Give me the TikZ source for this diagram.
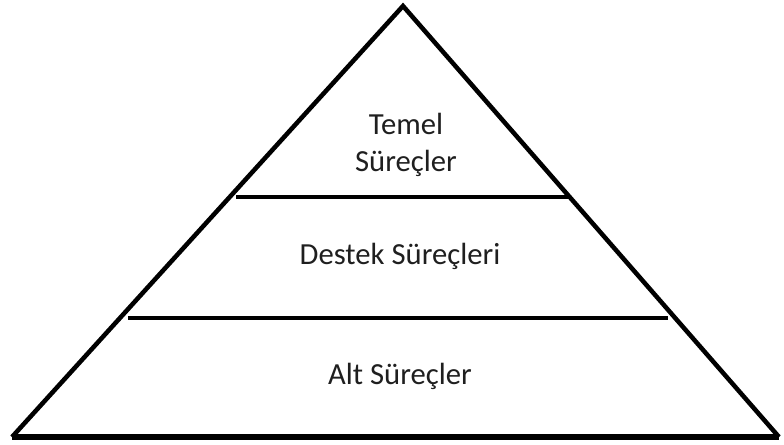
\documentclass[tikz,border=0pt]{standalone}
\usepackage{fontspec}
\setmainfont{Carlito}
\begin{document}
\begin{tikzpicture}[x=0.75pt,y=-0.75pt,
  edge/.style={line width=3.4pt,line join=miter,line cap=butt},
  level/.style={font=\fontsize{23}{27.5}\selectfont,align=center,text=black!88}]
\useasboundingbox (0,0) rectangle (784,445);
% corners of the pyramid
\coordinate (apex) at (403,6);
\coordinate (bl) at (12,437);
\coordinate (br) at (779,437);
% outline
\draw[edge] (bl) -- (apex) -- (br);
\draw[line width=5pt] (bl) -- (br);
% dividing lines
\coordinate (l1a) at (236,197);
\coordinate (l1b) at (569,197);
\coordinate (l2a) at (128,318);
\coordinate (l2b) at (668,318);
\draw[line width=3.6pt] (l1a) -- (l1b);
\draw[line width=3.6pt] (l2a) -- (l2b);
% labels
\node[level] (top) at (406,145) {Temel\\Süreçler};
\node[level] (mid) at (400,256) {Destek Süreçleri};
\node[level] (bot) at (400,376) {Alt Süreçler};
\end{tikzpicture}
\end{document}
